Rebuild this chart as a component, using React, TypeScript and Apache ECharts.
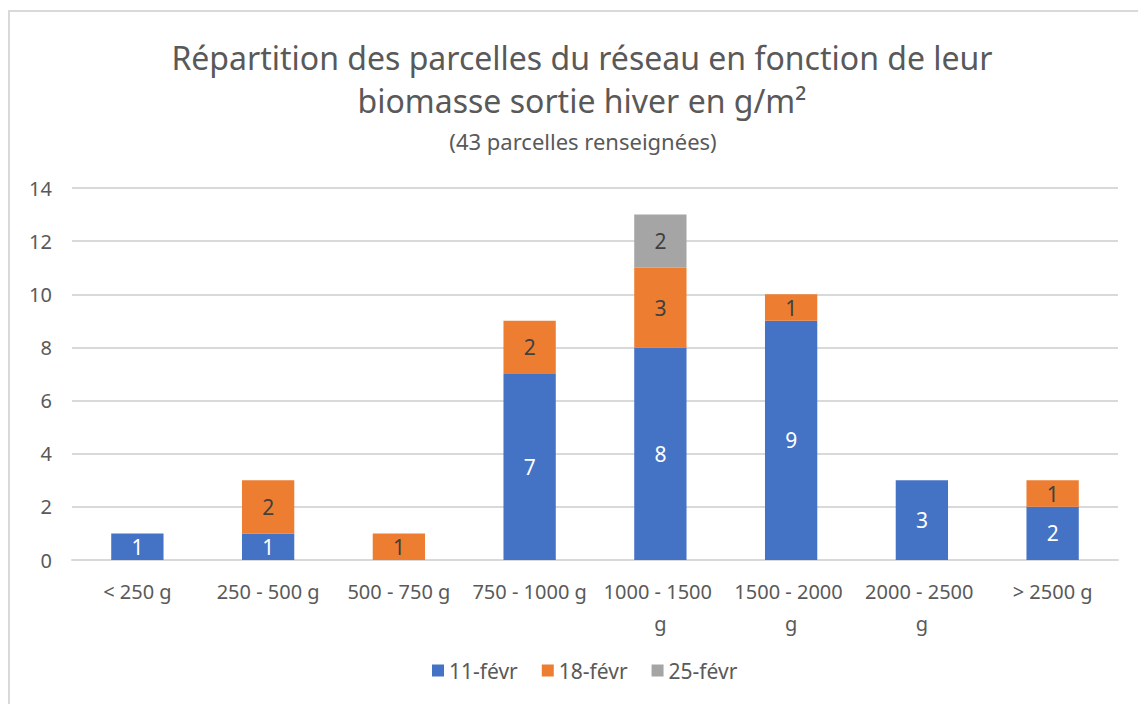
import React, { useEffect, useRef } from "react";
import * as echarts from "echarts";

const titleText = "Répartition des parcelles du réseau en fonction de leur\nbiomasse sortie hiver en g/m²";
const subtitleText = "(43 parcelles renseignées)";
const categories = ["< 250 g", "250 - 500 g", "500 - 750 g", "750 - 1000 g", "1000 - 1500 g", "1500 - 2000 g", "2000 - 2500 g", "> 2500 g"];
const seriesNames = ["11-févr", "18-févr", "25-févr"];
const fev11 = [1, 1, 0, 7, 8, 9, 3, 2];
const fev18 = [0, 2, 1, 2, 3, 1, 0, 1];
const fev25 = [0, 0, 0, 0, 2, 0, 0, 0];
const colors = ["#4472C4", "#ED7D31", "#A5A5A5"];
const labelColors = ["#ffffff", "#404040", "#404040"];

const FONT = "'Noto Sans', 'Open Sans', sans-serif";

export default function App() {
  const ref = useRef<HTMLDivElement>(null);
  useEffect(() => {
    if (!ref.current) return;
    const chart = echarts.init(ref.current, undefined, { renderer: "svg" });
    const values = [fev11, fev18, fev25];
    chart.setOption({
      animation: false,
      textStyle: { fontFamily: FONT },
      title: [
        {
          text: titleText,
          left: 577,
          top: 31,
          textAlign: "center",
          textStyle: { fontFamily: FONT, fontSize: 32, fontWeight: "normal", color: "#595959", lineHeight: 43, align: "center" },
        },
        {
          text: subtitleText,
          left: 578,
          top: 125,
          textAlign: "center",
          textStyle: { fontFamily: FONT, fontSize: 22, fontWeight: "normal", color: "#595959" },
        },
      ],
      graphic: [
        {
          type: "rect",
          shape: { x: 9, y: 11, width: 1140, height: 700 },
          style: { fill: "none", stroke: "#d9d9d9", lineWidth: 2 },
          silent: true,
        },
      ],
      legend: {
        bottom: 18,
        left: 427,
        itemWidth: 12,
        itemHeight: 12,
        itemGap: 24,
        icon: "rect",
        data: seriesNames,
        textStyle: { fontFamily: FONT, fontSize: 21, color: "#595959" },
      },
      grid: { left: 72, right: 20, top: 188, bottom: 144, containLabel: false },
      xAxis: {
        type: "category",
        data: categories,
        axisLine: { lineStyle: { color: "#d9d9d9", width: 2 } },
        axisTick: { show: false },
        axisLabel: {
          fontFamily: FONT,
          fontSize: 20,
          color: "#595959",
          margin: 15,
          width: 118,
          overflow: "break",
          lineHeight: 32,
          interval: 0,
        },
      },
      yAxis: {
        type: "value",
        min: 0,
        max: 14,
        interval: 2,
        axisLine: { show: false },
        axisTick: { show: false },
        axisLabel: { fontFamily: FONT, fontSize: 20, color: "#595959", margin: 20 },
        splitLine: { lineStyle: { color: "#d9d9d9", width: 2 } },
      },
      series: seriesNames.map((name, i) => ({
        name,
        type: "bar",
        stack: "total",
        barWidth: "40%",
        data: values[i],
        itemStyle: { color: colors[i] },
        label: {
          show: true,
          position: "inside",
          fontFamily: FONT,
          fontSize: 21,
          color: labelColors[i],
          formatter: (p: any) => (p.value ? String(p.value) : ""),
        },
      })),
    });
    return () => chart.dispose();
  }, []);
  return (
    <div
      ref={ref}
      style={{ position: "absolute", left: 0, top: 0, width: 1138, height: 704, background: "#ffffff" }}
    />
  );
}
